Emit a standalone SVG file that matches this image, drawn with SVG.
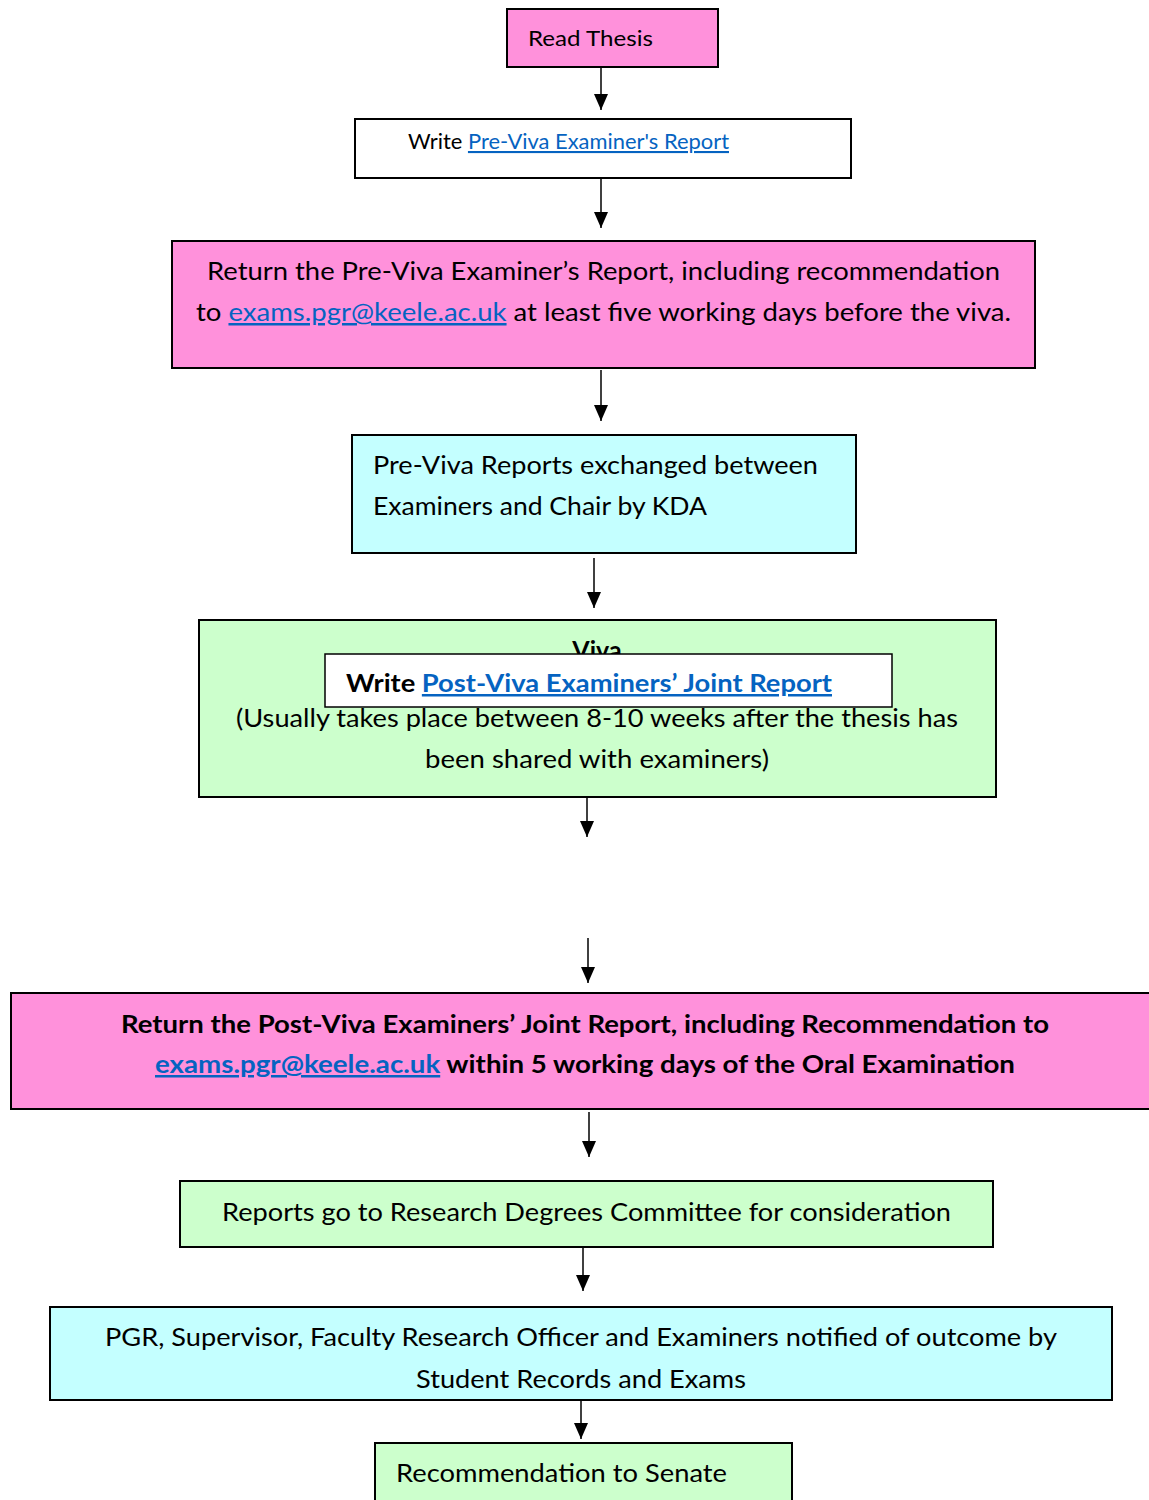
<svg xmlns="http://www.w3.org/2000/svg" width="1149" height="1500" viewBox="0 0 1149 1500">
<style>
.t{font-family:Lato,"Open Sans","Liberation Sans",sans-serif;fill:#000}
.b{font-weight:bold}
.lnk{fill:#0563C1;text-decoration:underline}
.box{stroke:#000;stroke-width:2}
.pink{fill:#FF91DB}
.cyan{fill:#C4FFFF}
.green{fill:#CCFFCC}
.white{fill:#FFFFFF}
.conn{stroke:#000;stroke-width:1.5;fill:none;marker-end:url(#ah)}
</style>
<defs>
<marker id="ah" markerUnits="userSpaceOnUse" markerWidth="17" markerHeight="15" refX="16" refY="7" orient="auto" viewBox="0 0 17 15">
<path d="M0,0 L16,7 L0,14 Z" fill="#000"/>
</marker>
</defs>
<g id="connectors">
<line class="conn" x1="601" y1="67" x2="601" y2="110"/>
<line class="conn" x1="601" y1="178" x2="601" y2="228"/>
<line class="conn" x1="601" y1="370" x2="601" y2="421"/>
<line class="conn" x1="594" y1="558" x2="594" y2="608"/>
<line class="conn" x1="587" y1="792" x2="587" y2="837"/>
<line class="conn" x1="588" y1="938" x2="588" y2="983"/>
<line class="conn" x1="589" y1="1112" x2="589" y2="1157"/>
<line class="conn" x1="583" y1="1246" x2="583" y2="1291"/>
<line class="conn" x1="581" y1="1400" x2="581" y2="1439"/>
</g>
<g id="n1">
<rect class="box pink" x="507" y="9" width="211" height="58"/>
<text class="t" x="528" y="46" font-size="22" textLength="125" lengthAdjust="spacingAndGlyphs">Read Thesis</text>
</g>
<g id="n2">
<rect class="box white" x="355" y="119" width="496" height="59"/>
<text class="t" x="408" y="149" font-size="21" textLength="321" lengthAdjust="spacingAndGlyphs">Write <tspan class="lnk">Pre-Viva Examiner's Report</tspan></text>
</g>
<g id="n3">
<rect class="box pink" x="172" y="241" width="863" height="127"/>
<text class="t" x="207" y="280" font-size="25" textLength="793" lengthAdjust="spacingAndGlyphs">Return the Pre-Viva Examiner’s Report, including recommendation</text>
<text class="t" x="196" y="321" font-size="25" textLength="815" lengthAdjust="spacingAndGlyphs">to <tspan class="lnk">exams.pgr@keele.ac.uk</tspan> at least five working days before the viva.</text>
</g>
<g id="n4">
<rect class="box cyan" x="352" y="435" width="504" height="118"/>
<text class="t" x="373" y="474" font-size="25" textLength="445" lengthAdjust="spacingAndGlyphs">Pre-Viva Reports exchanged between</text>
<text class="t" x="373" y="515" font-size="25" textLength="334" lengthAdjust="spacingAndGlyphs">Examiners and Chair by KDA</text>
</g>
<g id="n5">
<rect class="box green" x="199" y="620" width="797" height="177" stroke-width="2.5"/>
<text class="t b" x="597" y="659" font-size="25" text-anchor="middle">Viva</text>
<text class="t" x="597" y="727" font-size="25" text-anchor="middle" textLength="722" lengthAdjust="spacingAndGlyphs">(Usually takes place between 8-10 weeks after the thesis has</text>
<text class="t" x="597" y="768" font-size="25" text-anchor="middle" textLength="344" lengthAdjust="spacingAndGlyphs">been shared with examiners)</text>
</g>
<g id="n6">
<rect class="white" x="325" y="654" width="567" height="53" stroke="#000" stroke-width="1.5"/>
<text class="t b" x="346" y="692" font-size="25" textLength="486" lengthAdjust="spacingAndGlyphs">Write <tspan class="lnk">Post-Viva Examiners’ Joint Report</tspan></text>
</g>
<g id="n7">
<rect class="box pink" x="11" y="993" width="1150" height="116"/>
<text class="t b" x="121" y="1033" font-size="25" textLength="928" lengthAdjust="spacingAndGlyphs">Return the Post-Viva Examiners’ Joint Report, including Recommendation to</text>
<text class="t b" x="155" y="1073" font-size="25" textLength="860" lengthAdjust="spacingAndGlyphs"><tspan class="lnk">exams.pgr@keele.ac.uk</tspan> within 5 working days of the Oral Examination</text>
</g>
<g id="n8">
<rect class="box green" x="180" y="1181" width="813" height="66"/>
<text class="t" x="222" y="1221" font-size="25" textLength="729" lengthAdjust="spacingAndGlyphs">Reports go to Research Degrees Committee for consideration</text>
</g>
<g id="n9">
<rect class="box cyan" x="50" y="1307" width="1062" height="93"/>
<text class="t" x="105" y="1346" font-size="25" textLength="952" lengthAdjust="spacingAndGlyphs">PGR, Supervisor, Faculty Research Officer and Examiners notified of outcome by</text>
<text class="t" x="416" y="1388" font-size="25" textLength="330" lengthAdjust="spacingAndGlyphs">Student Records and Exams</text>
</g>
<g id="n10">
<rect class="box green" x="375" y="1443" width="417" height="70"/>
<text class="t" x="396" y="1482" font-size="25" textLength="331" lengthAdjust="spacingAndGlyphs">Recommendation to Senate</text>
</g>
</svg>
